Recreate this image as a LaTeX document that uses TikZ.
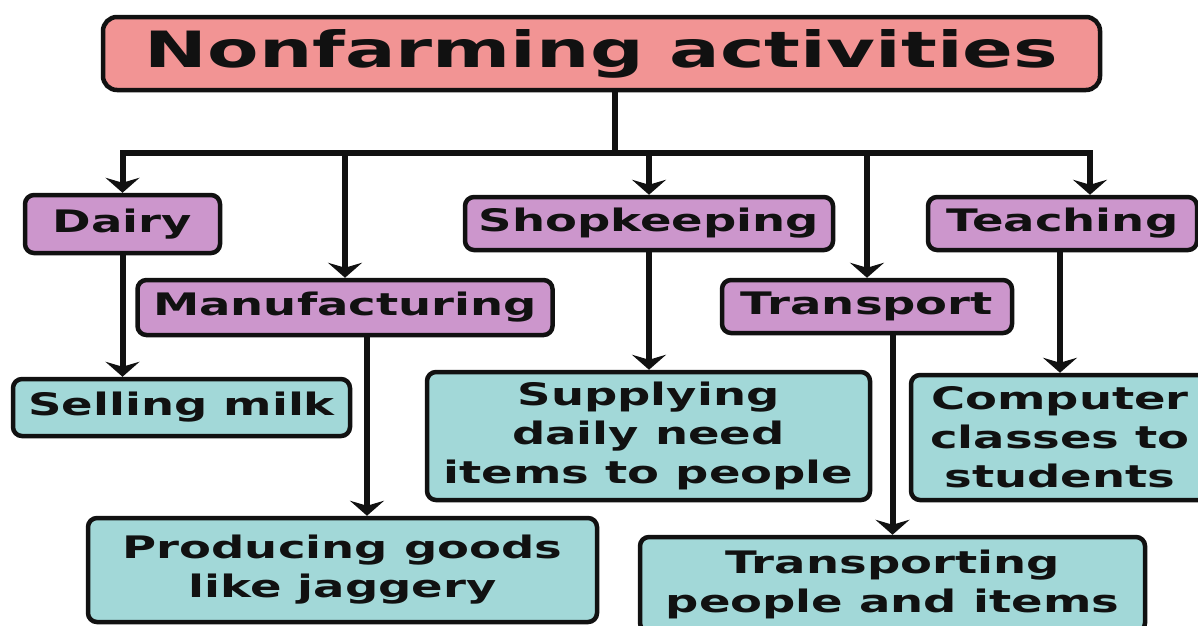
\documentclass[tikz,border=0pt]{standalone}
\usepackage{fontspec}
\setmainfont{DejaVu Sans}[FakeStretch=1.5]
\usetikzlibrary{arrows.meta}
\definecolor{titlepink}{RGB}{242,148,148}
\definecolor{headviolet}{RGB}{204,150,204}
\definecolor{leafteal}{RGB}{162,216,216}
\definecolor{inkblack}{RGB}{17,17,17}
\begin{document}
\begin{tikzpicture}[x=1pt, y=-1pt, >={Stealth[length=15pt,width=34pt,inset=5pt]},
    box/.style={draw=inkblack, line width=4.5pt, rounded corners=9pt, inner sep=0pt, align=center,
        text=inkblack, font=\bfseries\fontsize{31}{39}\selectfont},
    headbox/.style={box, fill=headviolet},
    leafbox/.style={box, fill=leafteal},
    link/.style={line width=6pt, draw=inkblack}]
    \clip (0,0) rectangle (1198,625);
    \useasboundingbox (0,0) rectangle (1198,625);
    % top
    \node[box, fill=titlepink, rounded corners=14pt, minimum width=997pt, minimum height=73pt,
        font=\bfseries\fontsize{50}{56}\selectfont] (title) at (601.5,53.5) {Nonfarming activities};
    % activities
    \node[headbox, minimum width=195pt, minimum height=58pt] (dairy) at (122.5,224) {Dairy};
    \node[headbox, minimum width=415pt, minimum height=55pt] (manuf) at (345,307.5) {Manufacturing};
    \node[headbox, minimum width=368pt, minimum height=53pt] (shop) at (649,223.5) {Shopkeeping};
    \node[headbox, minimum width=290pt, minimum height=53pt] (transport) at (867,306.5) {Transport};
    \node[headbox, minimum width=269pt, minimum height=53pt] (teaching) at (1062.5,223.5) {Teaching};
    % examples
    \node[leafbox, minimum width=337pt, minimum height=57pt] (selling) at (181.5,407.5) {Selling milk};
    \node[leafbox, minimum width=443pt, minimum height=128pt] (supply) at (648.5,436) {Supplying\\daily need\\items to people};
    \node[leafbox, minimum width=298pt, minimum height=125pt] (computer) at (1060,437.5) {Computer\\classes to\\students};
    \node[leafbox, minimum width=509pt, minimum height=104pt] (produce) at (342.5,570) {Producing goods\\like jaggery};
    \node[leafbox, minimum width=505pt, minimum height=95pt] (carry) at (892.5,584.5) {Transporting\\people and items};
    % connectors
    \coordinate (bus) at (615,153);
    \draw[link] ([xshift=13.5pt]title.south) -- (bus);
    \draw[link,->] (bus) -| (dairy.north);
    \draw[link,->] (bus) -| ([xshift=27.5pt]teaching.north);
    \draw[link,->] (manuf.north |- bus) -- (manuf.north);
    \draw[link,->] (shop.north |- bus) -- (shop.north);
    \draw[link,->] (transport.north |- bus) -- (transport.north);
    \draw[link,->] (dairy.south) -- (dairy.south |- selling.north);
    \draw[link,->] ([xshift=22pt]manuf.south) -- ([xshift=22pt]manuf.south |- produce.north);
    \draw[link,->] (shop.south) -- (shop.south |- supply.north);
    \draw[link,->] (carry.north |- transport.south) -- (carry.north);
    \draw[link,->] (computer.north |- teaching.south) -- (computer.north);
\end{tikzpicture}
\end{document}
